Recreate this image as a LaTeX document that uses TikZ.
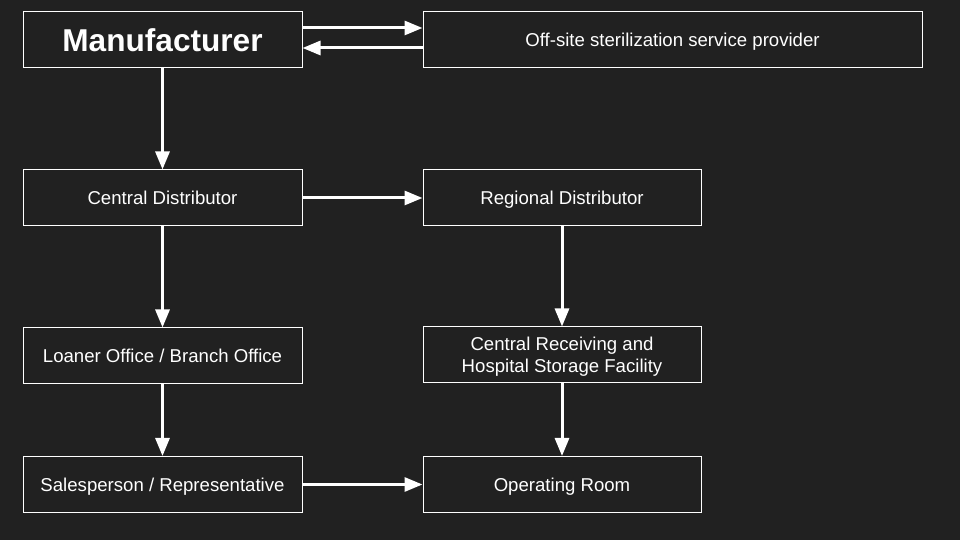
\documentclass[tikz,border=0pt]{standalone}
\usepackage{fontspec}
\setmainfont{Liberation Sans}
\usetikzlibrary{arrows.meta}
\definecolor{bg}{HTML}{212121}
\tikzset{
  box/.style={draw=white, line width=1pt, fill=bg, text=white, align=center,
    minimum height=56pt, inner sep=2pt, font=\fontsize{18.6}{22.5}\selectfont},
  oneline/.style={text height=13.3pt, text depth=-1.5pt},
  flow/.style={draw=white, line width=3pt, -{Triangle[length=18pt,width=14pt]}}
}
\begin{document}
\begin{tikzpicture}
    \fill [bg] (0, 0) rectangle (960pt, 540pt);
    \useasboundingbox (0, 0) rectangle (960pt, 540pt);

    \node [box, minimum width=279pt, font=\fontsize{31.6}{36}\selectfont\bfseries, text height=22.6pt, text depth=-1.5pt] (Manufacturer) at (162.5pt, 500pt) {Manufacturer};
    \node [box, oneline, minimum width=499pt] (OffSite) at (672.5pt, 500pt) {Off-site sterilization service provider};

    \node [box, oneline, minimum width=279pt] (CentralDist) at (162.5pt, 342pt) {Central Distributor};
    \node [box, oneline, minimum width=278pt] (RegionalDist) at (562pt, 342pt) {Regional Distributor};

    \node [box, oneline, minimum width=279pt] (Loaner) at (162.5pt, 184pt) {Loaner Office / Branch Office};
    \node [box, minimum width=278pt, text depth=-1.5pt] (Receiving) at (562pt, 185pt) {Central Receiving and\\Hospital Storage Facility};

    \node [box, oneline, minimum width=279pt] (Sales) at (162.5pt, 55.5pt) {Salesperson / Representative};
    \node [box, oneline, minimum width=278pt] (OR) at (562pt, 55.5pt) {Operating Room};

    \draw [flow] ([yshift=12pt]Manufacturer.east) -- ([yshift=12pt]OffSite.west);
    \draw [flow] ([yshift=-8pt]OffSite.west) -- ([yshift=-8pt]Manufacturer.east);

    \draw [flow] (Manufacturer) -- (CentralDist);
    \draw [flow] (CentralDist) -- (RegionalDist);
    \draw [flow] (CentralDist) -- (Loaner);
    \draw [flow] (Loaner) -- (Sales);
    \draw [flow] (RegionalDist) -- (Receiving);
    \draw [flow] (Receiving) -- (OR);
    \draw [flow] (Sales) -- (OR);
  \end{tikzpicture}
\end{document}
